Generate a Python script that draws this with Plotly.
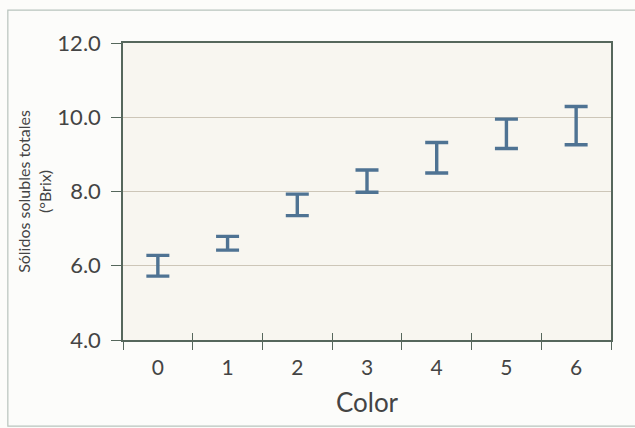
import plotly.graph_objects as go

# Total soluble solids range (°Brix) per colour class
color_labels = ["0", "1", "2", "3", "4", "5", "6"]
brix_low = [5.72, 6.42, 7.35, 7.98, 8.50, 9.16, 9.26]
brix_high = [6.28, 6.79, 7.93, 8.58, 9.32, 9.95, 10.29]

y_ticks = [4.0, 6.0, 8.0, 10.0, 12.0]

positions = list(range(len(color_labels)))
mid = [(lo + hi) / 2 for lo, hi in zip(brix_low, brix_high)]
err_plus = [hi - m for hi, m in zip(brix_high, mid)]
err_minus = [m - lo for lo, m in zip(brix_low, mid)]
bounds = [p - 0.5 for p in positions] + [positions[-1] + 0.5]

axis_col = "#56675c"
bar_col = "#4f7393"
txt_col = "#444444"
font_family = "Lato, 'Open Sans', sans-serif"

fig = go.Figure()

fig.add_trace(go.Scatter(
    x=positions, y=mid, mode="markers",
    marker=dict(size=1, opacity=0),
    error_y=dict(type="data", symmetric=False, array=err_plus, arrayminus=err_minus,
                 color=bar_col, thickness=3.4, width=11.5),
    hoverinfo="skip", showlegend=False,
))
# helper trace so the overlay axis (inner category ticks) is drawn
fig.add_trace(go.Scatter(x=[bounds[0]], y=[y_ticks[0]], xaxis="x2", mode="markers",
                         marker=dict(opacity=0), hoverinfo="skip", showlegend=False))

fig.update_layout(
    width=635, height=428,
    margin=dict(l=123, r=24, t=43, b=88),
    paper_bgcolor="#fcfcfa",
    plot_bgcolor="#f8f6f0",
    font=dict(family=font_family, color=txt_col),
    xaxis=dict(
        range=[bounds[0], bounds[-1]],
        tickmode="array", tickvals=positions, ticktext=color_labels,
        ticks="", tickfont=dict(size=21, color=txt_col),
        minor=dict(tickmode="array", tickvals=bounds, ticks="outside",
                   ticklen=8, tickwidth=1.2, tickcolor=axis_col),
        showgrid=False, zeroline=False,
        showline=True, linecolor=axis_col, linewidth=1.5, mirror=True,
        ticklabelstandoff=8,
        title=dict(text="Color", font=dict(size=26, color=txt_col), standoff=16),
    ),
    xaxis2=dict(
        overlaying="x", anchor="y", side="bottom",
        range=[bounds[0], bounds[-1]],
        tickmode="array", tickvals=bounds, ticks="inside", ticklen=7,
        tickwidth=1.2, tickcolor=axis_col,
        showticklabels=False, showgrid=False, zeroline=False, showline=False,
    ),
    yaxis=dict(
        range=[y_ticks[0], y_ticks[-1]],
        tickmode="array", tickvals=y_ticks, tickformat=".1f",
        ticks="outside", ticklen=10, tickwidth=1.2, tickcolor=axis_col,
        tickfont=dict(size=22, color=txt_col), ticklabelstandoff=6,
        showgrid=True, gridcolor="#cdc6b8", gridwidth=1,
        zeroline=False,
        showline=True, linecolor=axis_col, linewidth=1.5, mirror=True,
        title=dict(text="Sólidos solubles totales<br>(°Brix)",
                   font=dict(size=16, color=txt_col), standoff=2),
    ),
    shapes=[dict(type="rect", xref="paper", yref="paper",
                 x0=-0.236, x1=1.07, y0=-0.29, y1=1.111,
                 line=dict(color="#b8c3bd", width=1.2), layer="below")],
)

fig.write_html("out.html")
